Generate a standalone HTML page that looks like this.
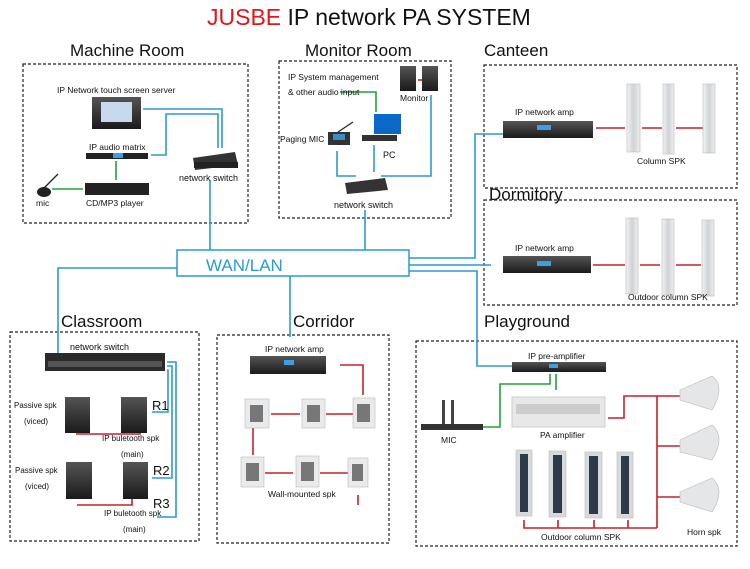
<!DOCTYPE html>
<html><head><meta charset="utf-8"><style>
body{margin:0;background:#fff}
svg{display:block;font-family:"Liberation Sans",Arial,sans-serif}
</style></head><body>
<svg width="750" height="569" viewBox="0 0 750 569" xmlns="http://www.w3.org/2000/svg">
<defs>
<linearGradient id="dk" x1="0" y1="0" x2="0" y2="1"><stop offset="0" stop-color="#555"/><stop offset="1" stop-color="#1a1a1a"/></linearGradient>
<linearGradient id="col" x1="0" y1="0" x2="1" y2="0"><stop offset="0" stop-color="#f4f4f4"/><stop offset="0.5" stop-color="#cfd3d6"/><stop offset="1" stop-color="#eee"/></linearGradient>
</defs>
<text x="207" y="25" font-size="23" fill="#111"><tspan fill="#e3141b">JUSBE</tspan> IP network PA SYSTEM</text>

<g font-size="17" fill="#111">
<text x="70" y="56">Machine Room</text>
<text x="305" y="56">Monitor Room</text>
<text x="484" y="56">Canteen</text>
<text x="489" y="200">Dormitory</text>
<text x="61" y="327">Classroom</text>
<text x="293" y="327">Corridor</text>
<text x="484" y="327">Playground</text>
</g>

<g fill="none" stroke="#222" stroke-width="1.2" stroke-dasharray="3,2">
<rect x="23" y="64" width="225" height="159"/>
<rect x="279" y="61" width="172" height="157"/>
<rect x="484" y="65" width="253" height="123"/>
<rect x="484" y="200" width="253" height="105"/>
<rect x="10" y="332" width="189" height="209"/>
<rect x="217" y="335" width="172" height="208"/>
<rect x="416" y="341" width="321" height="205"/>
</g>

<rect x="177" y="250" width="232" height="26" fill="#fff" stroke="#2a9bd4" stroke-width="1.5"/>
<text x="206" y="271" font-size="17" fill="#2a9bd4">WAN/LAN</text>

<g fill="none" stroke="#2a9bd4" stroke-width="1.6">
<path d="M210 180 V250"/>
<path d="M365 210 V250"/>
<path d="M177 268 H58 V362"/>
<path d="M290 276 V337"/>
<path d="M409 258 H475 V134 H503"/>
<path d="M409 265 H491"/>
<path d="M409 271 H477 V366 H516"/>
<path d="M143 109 H222 V148"/>
<path d="M151 155 H166 V114 H218 V148"/>
<path d="M337 151 V176 H356"/>
<path d="M374 145 V172"/>
<path d="M381 176 H431 V95"/>
<path d="M167 362 H176 V517 H157"/>
<path d="M167 366 H172 V478 H152"/>
<path d="M167 370 H168 V412 H152"/>
</g>

<g fill="none" stroke="#22a33a" stroke-width="1.6">
<path d="M116 161 V180"/>
<path d="M52 189 H83"/>
<path d="M340 92 H376 V112"/>
<path d="M483 427 H500 V384 H550 V374"/>
<path d="M556 374 V390"/>
</g>

<g fill="none" stroke="#c8202a" stroke-width="1.6">
<path d="M76 434 H140 V428"/>
<path d="M77 505 H132 V498"/>
<path d="M340 365 H363 V395"/>
<path d="M271 414 H300 M326 414 H353"/>
<path d="M253 420 V455"/>
<path d="M265 473 H293 M320 473 H350"/>
<path d="M358 495 V505"/>
<path d="M596 128 H625 M642 128 H662 M676 128 H704"/>
<path d="M593 265 H625 M640 265 H660 M676 265 H701"/>
<path d="M608 418 H624 V396 H680"/>
<path d="M657 396 V528 M657 446 H680 M657 497 H680"/>
<path d="M524 520 V528 H657 M558 520 V528 M594 520 V528 M628 520 V528"/>
<path d="M418 80 H424"/>
</g>

<text x="57" y="93" font-size="8.5" fill="#111">IP Network touch screen server</text>
<rect x="92" y="97" width="49" height="32" fill="url(#dk)"/>
<rect x="101" y="102" width="31" height="20" fill="#c8d8ee"/>
<text x="89" y="150" font-size="8.5" fill="#111">IP audio matrix</text>
<rect x="86" y="153" width="62" height="6" fill="#222"/>
<rect x="113" y="153" width="10" height="5" fill="#3aa0e0"/>
<rect x="85" y="183" width="64" height="12" fill="#222"/>
<text x="86" y="206" font-size="8.5" fill="#111">CD/MP3 player</text>
<path d="M40 192 L58 174" stroke="#222" stroke-width="1.3"/>
<ellipse cx="44" cy="192" rx="7" ry="5" fill="#222"/>
<text x="36" y="206" font-size="8.5" fill="#111">mic</text>
<path d="M193 158 L235 152 L238 165 L195 170 Z" fill="#333"/>
<rect x="194" y="162" width="44" height="6" fill="#222"/>
<text x="179" y="181" font-size="9" fill="#111">network switch</text>

<text x="288" y="80" font-size="8.5" fill="#111">IP System management</text>
<text x="288" y="95" font-size="8.5" fill="#111">&amp; other audio input</text>
<rect x="400" y="66" width="16" height="25" fill="url(#dk)"/>
<rect x="422" y="66" width="16" height="25" fill="url(#dk)"/>
<text x="400" y="101" font-size="8.5" fill="#111">Monitor</text>
<rect x="374" y="114" width="27" height="20" fill="#0a68c8"/>
<rect x="362" y="135" width="35" height="6" fill="#333"/>
<text x="383" y="158" font-size="9" fill="#111">PC</text>
<text x="280" y="142" font-size="8.5" fill="#111">Paging MIC</text>
<rect x="328" y="132" width="22" height="13" fill="#333"/>
<rect x="333" y="134" width="12" height="6" fill="#3a8ec8"/>
<path d="M338 132 L353 122" stroke="#222" stroke-width="1.2"/>
<path d="M345 183 L385 178 L388 190 L347 194 Z" fill="#333"/>
<text x="334" y="208" font-size="9" fill="#111">network switch</text>

<text x="515" y="115" font-size="8.5" fill="#111">IP network amp</text>
<rect x="503" y="121" width="90" height="17" fill="url(#dk)"/>
<rect x="537" y="125" width="14" height="5" fill="#3aa0e0"/>
<g fill="url(#col)" stroke="#bbb" stroke-width="0.6">
<rect x="627" y="84" width="13" height="68"/>
<rect x="663" y="84" width="11" height="70"/>
<rect x="703" y="84" width="12" height="69"/>
</g>
<text x="637" y="164" font-size="8.5" fill="#111">Column SPK</text>

<text x="515" y="251" font-size="8.5" fill="#111">IP network amp</text>
<rect x="503" y="256" width="88" height="17" fill="url(#dk)"/>
<rect x="537" y="261" width="14" height="5" fill="#3aa0e0"/>
<g fill="url(#col)" stroke="#bbb" stroke-width="0.6">
<rect x="626" y="218" width="12" height="76"/>
<rect x="662" y="219" width="12" height="76"/>
<rect x="702" y="220" width="12" height="76"/>
</g>
<text x="628" y="300" font-size="8.5" fill="#111">Outdoor column SPK</text>

<rect x="45" y="353" width="120" height="18" fill="#2b2b2b"/>
<rect x="48" y="361" width="114" height="6" fill="#555"/>
<text x="70" y="350" font-size="9" fill="#111">network switch</text>
<g fill="url(#dk)">
<rect x="65" y="397" width="25" height="36"/>
<rect x="121" y="397" width="26" height="36"/>
<rect x="66" y="462" width="26" height="37"/>
<rect x="123" y="462" width="25" height="37"/>
</g>
<g font-size="8" fill="#111">
<text x="14" y="408">Passive spk</text><text x="24" y="424">(viced)</text>
<text x="15" y="473">Passive spk</text><text x="25" y="489">(viced)</text>
<text x="102" y="441">IP buletooth spk</text><text x="121" y="457">(main)</text>
<text x="104" y="516">IP buletooth spk</text><text x="123" y="532">(main)</text>
</g>
<g font-size="13" fill="#111">
<text x="152" y="410">R1</text><text x="153" y="475">R2</text><text x="153" y="508">R3</text>
</g>

<text x="265" y="352" font-size="8.5" fill="#111">IP network amp</text>
<rect x="250" y="356" width="76" height="18" fill="url(#dk)"/>
<rect x="284" y="360" width="10" height="5" fill="#3aa0e0"/>
<g fill="#e8eaec" stroke="#bbb" stroke-width="0.6">
<rect x="245" y="399" width="24" height="29"/>
<rect x="302" y="399" width="23" height="29"/>
<rect x="353" y="398" width="22" height="30"/>
<rect x="241" y="457" width="23" height="30"/>
<rect x="296" y="456" width="23" height="31"/>
<rect x="348" y="458" width="20" height="29"/>
</g>
<g fill="#777"><rect x="250" y="405" width="13" height="17"/><rect x="307" y="405" width="13" height="17"/><rect x="357" y="404" width="13" height="18"/><rect x="246" y="463" width="13" height="18"/><rect x="301" y="462" width="13" height="19"/><rect x="352" y="464" width="11" height="17"/></g>
<text x="268" y="497" font-size="8.5" fill="#111">Wall-mounted spk</text>

<text x="528" y="359" font-size="8.5" fill="#111">IP pre-amplifier</text>
<rect x="512" y="362" width="94" height="10" fill="url(#dk)"/>
<rect x="549" y="364" width="9" height="4" fill="#3aa0e0"/>
<rect x="512" y="397" width="93" height="30" fill="#e8e8e8" stroke="#ccc"/>
<rect x="516" y="404" width="84" height="10" fill="#ccc"/>
<text x="540" y="438" font-size="8.5" fill="#111">PA amplifier</text>
<rect x="421" y="424" width="62" height="6" fill="#333"/>
<rect x="442" y="400" width="3" height="24" fill="#444"/><rect x="451" y="400" width="3" height="24" fill="#444"/>
<text x="441" y="443" font-size="8.5" fill="#111">MIC</text>
<g fill="#d6dadd" stroke="#bbb" stroke-width="0.6">
<rect x="516" y="450" width="16" height="66"/>
<rect x="549" y="451" width="17" height="66"/>
<rect x="585" y="452" width="17" height="66"/>
<rect x="617" y="452" width="16" height="66"/>
</g>
<g fill="#2c3a4a">
<rect x="520" y="454" width="8" height="58"/><rect x="553" y="455" width="9" height="58"/><rect x="589" y="456" width="9" height="58"/><rect x="621" y="456" width="8" height="58"/>
</g>
<text x="541" y="540" font-size="8.5" fill="#111">Outdoor column SPK</text>
<g fill="#e4e6e8" stroke="#bbb" stroke-width="0.6">
<path d="M680 390 L712 376 Q726 386 712 410 L680 400 Z"/>
<path d="M680 440 L712 425 Q726 437 712 460 L680 452 Z"/>
<path d="M680 492 L712 478 Q726 490 712 512 L680 502 Z"/>
</g>
<text x="687" y="535" font-size="8.5" fill="#111">Horn spk</text>
</svg>
</body></html>
